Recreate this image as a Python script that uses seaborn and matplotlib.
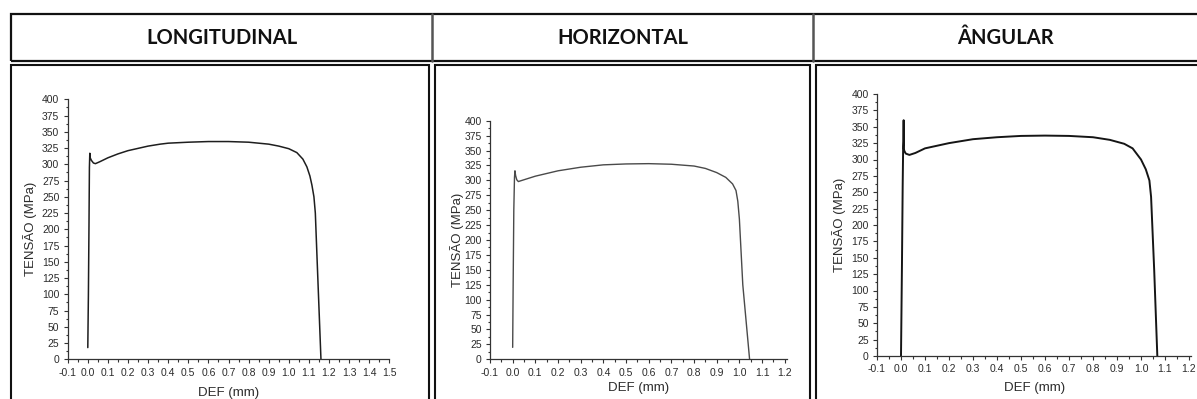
import matplotlib
matplotlib.use("Agg")
import numpy as np
import pandas as pd
import seaborn as sns
import matplotlib.pyplot as plt
from matplotlib.ticker import MultipleLocator, FormatStrFormatter
from matplotlib.patches import Rectangle
from matplotlib.lines import Line2D

# ---------------- data ----------------
titles = ["LONGITUDINAL", "HORIZONTAL", "ÂNGULAR"]
x_label = "DEF (mm)"
y_label = "TENSÃO (MPa)"

long_def = [0.000, 0.003, 0.006, 0.008, 0.010, 0.012, 0.018, 0.028, 0.038, 0.06, 0.10, 0.15,
            0.20, 0.30, 0.36, 0.40, 0.50, 0.60, 0.70, 0.80, 0.90, 0.95, 1.00, 1.04, 1.07,
            1.09, 1.105, 1.115, 1.125, 1.132, 1.14, 1.15, 1.16]
long_tensao = [18, 100, 210, 295, 317, 310, 306, 302, 301, 304, 310, 316,
               321, 328, 331, 332.5, 334, 335, 335, 334, 331, 328, 324, 318, 308,
               296, 282, 268, 250, 225, 160, 80, 0]

horiz_def = [0.000, 0.002, 0.005, 0.008, 0.010, 0.013, 0.018, 0.025, 0.05, 0.10, 0.20, 0.30,
             0.40, 0.50, 0.60, 0.70, 0.80, 0.85, 0.90, 0.94, 0.97, 0.985, 0.993, 1.000,
             1.015, 1.045]
horiz_tensao = [20, 120, 250, 305, 316, 308, 301, 298, 301, 307, 316, 322,
                326, 327.5, 328, 327, 324, 320, 313, 305, 294, 283, 265, 235,
                125, 0]

ang_def = [0.000, 0.004, 0.007, 0.009, 0.010, 0.011, 0.012, 0.014, 0.020, 0.035, 0.060, 0.10,
           0.20, 0.30, 0.40, 0.50, 0.60, 0.70, 0.80, 0.87, 0.93, 0.965, 1.00, 1.02, 1.035,
           1.042, 1.055, 1.068]
ang_tensao = [0, 140, 260, 320, 328, 360, 316, 313, 309, 307, 310, 317,
              325, 331, 334, 336, 336.5, 336, 334, 330, 324, 317, 300, 285, 268,
              243, 131, 0]

x_limits = [(-0.1, 1.5), (-0.1, 1.21), (-0.1, 1.21)]
y_limits = (0, 400)

# ---------------- style ----------------
sns.set_theme(style="ticks")
plt.rcParams['font.family'] = ['Liberation Sans', 'DejaVu Sans']
plt.rcParams['axes.unicode_minus'] = False

W, H = 1197, 399
fig = plt.figure(figsize=(W / 100, H / 100), dpi=100)
fig.patch.set_facecolor("white")


def fx(px):
    return px / W


def fy(py):
    return 1 - py / H


# ---------------- table frame ----------------
edge = "#111111"
fig.add_artist(Rectangle((fx(11), fy(61)), fx(1210) - fx(11), fy(14) - fy(61),
                         transform=fig.transFigure, fill=False, lw=1.6, ec=edge))
for xd in (432, 813):
    fig.add_artist(Line2D([fx(xd), fx(xd)], [fy(14), fy(61)], transform=fig.transFigure,
                          lw=1.8, color="#555555"))
cells = [(11, 429), (435, 810), (816, 1210)]
for (l, r) in cells:
    fig.add_artist(Rectangle((fx(l), fy(410)), fx(r) - fx(l), fy(65) - fy(410),
                             transform=fig.transFigure, fill=False, lw=1.5, ec=edge))
hdr_centers = [221.5, 622.5, 1005]
for t, cx in zip(titles, hdr_centers):
    fig.text(fx(cx), fy(37.5), t, ha="center", va="center", fontsize=14.5,
             fontweight="bold", family=["Lato", "DejaVu Sans"], color="#111111")

# ---------------- plots ----------------
# (left px, right px, top px (y=400), bottom px (y=0))
geoms = [(67.7, 389.3, 99.3, 359.3), (490, 787, 120.7, 359.3), (877, 1191.4, 94, 356)]
series = [(long_def, long_tensao, "#1e1e1e", 1.1),
          (horiz_def, horiz_tensao, "#4a4a4a", 1.0),
          (ang_def, ang_tensao, "#151515", 1.4)]
ylab_off = [37, 33, 37]     # label centre distance left of spine (px)
xlab_off = [34, 29, 32]     # label centre distance below axis (px)
tcol = "#2b2b2b"

for i, ((l, r, t, b), (xs, ys, col, lw)) in enumerate(zip(geoms, series)):
    ax = fig.add_axes([fx(l), fy(b), fx(r) - fx(l), fy(t) - fy(b)])
    df = pd.DataFrame({"DEF": xs, "TENSAO": ys})
    sns.lineplot(data=df, x="DEF", y="TENSAO", ax=ax, sort=False, estimator=None,
                 color=col, lw=lw)
    ax.set_xlim(*x_limits[i])
    ax.set_ylim(*y_limits)
    ax.set_facecolor("none")
    for s in ("top", "right"):
        ax.spines[s].set_visible(False)
    for s in ("left", "bottom"):
        ax.spines[s].set_color("#333333")
        ax.spines[s].set_linewidth(0.9)
    ax.xaxis.set_major_locator(MultipleLocator(0.1))
    ax.xaxis.set_minor_locator(MultipleLocator(0.05))
    ax.xaxis.set_major_formatter(FormatStrFormatter("%.1f"))
    ax.yaxis.set_major_locator(MultipleLocator(25))
    ax.yaxis.set_minor_locator(MultipleLocator(12.5))
    ax.tick_params(which="major", length=3.2, width=0.8, color="#333333",
                   labelsize=7.5, labelcolor=tcol, pad=2.8)
    ax.tick_params(which="minor", length=1.8, width=0.8, color="#333333")
    ax.set_xlabel(x_label, fontsize=9.5, color=tcol)
    ax.set_ylabel(y_label, fontsize=9.5, color=tcol)
    wpx = r - l
    hpx = b - t
    ax.yaxis.set_label_coords(-(ylab_off[i] - 6.5) / wpx, 0.5)
    ax.xaxis.set_label_coords(0.5, -(xlab_off[i] - 6.5) / hpx)
    ax.grid(False)

fig.savefig("out.png", dpi=100, facecolor="white")
